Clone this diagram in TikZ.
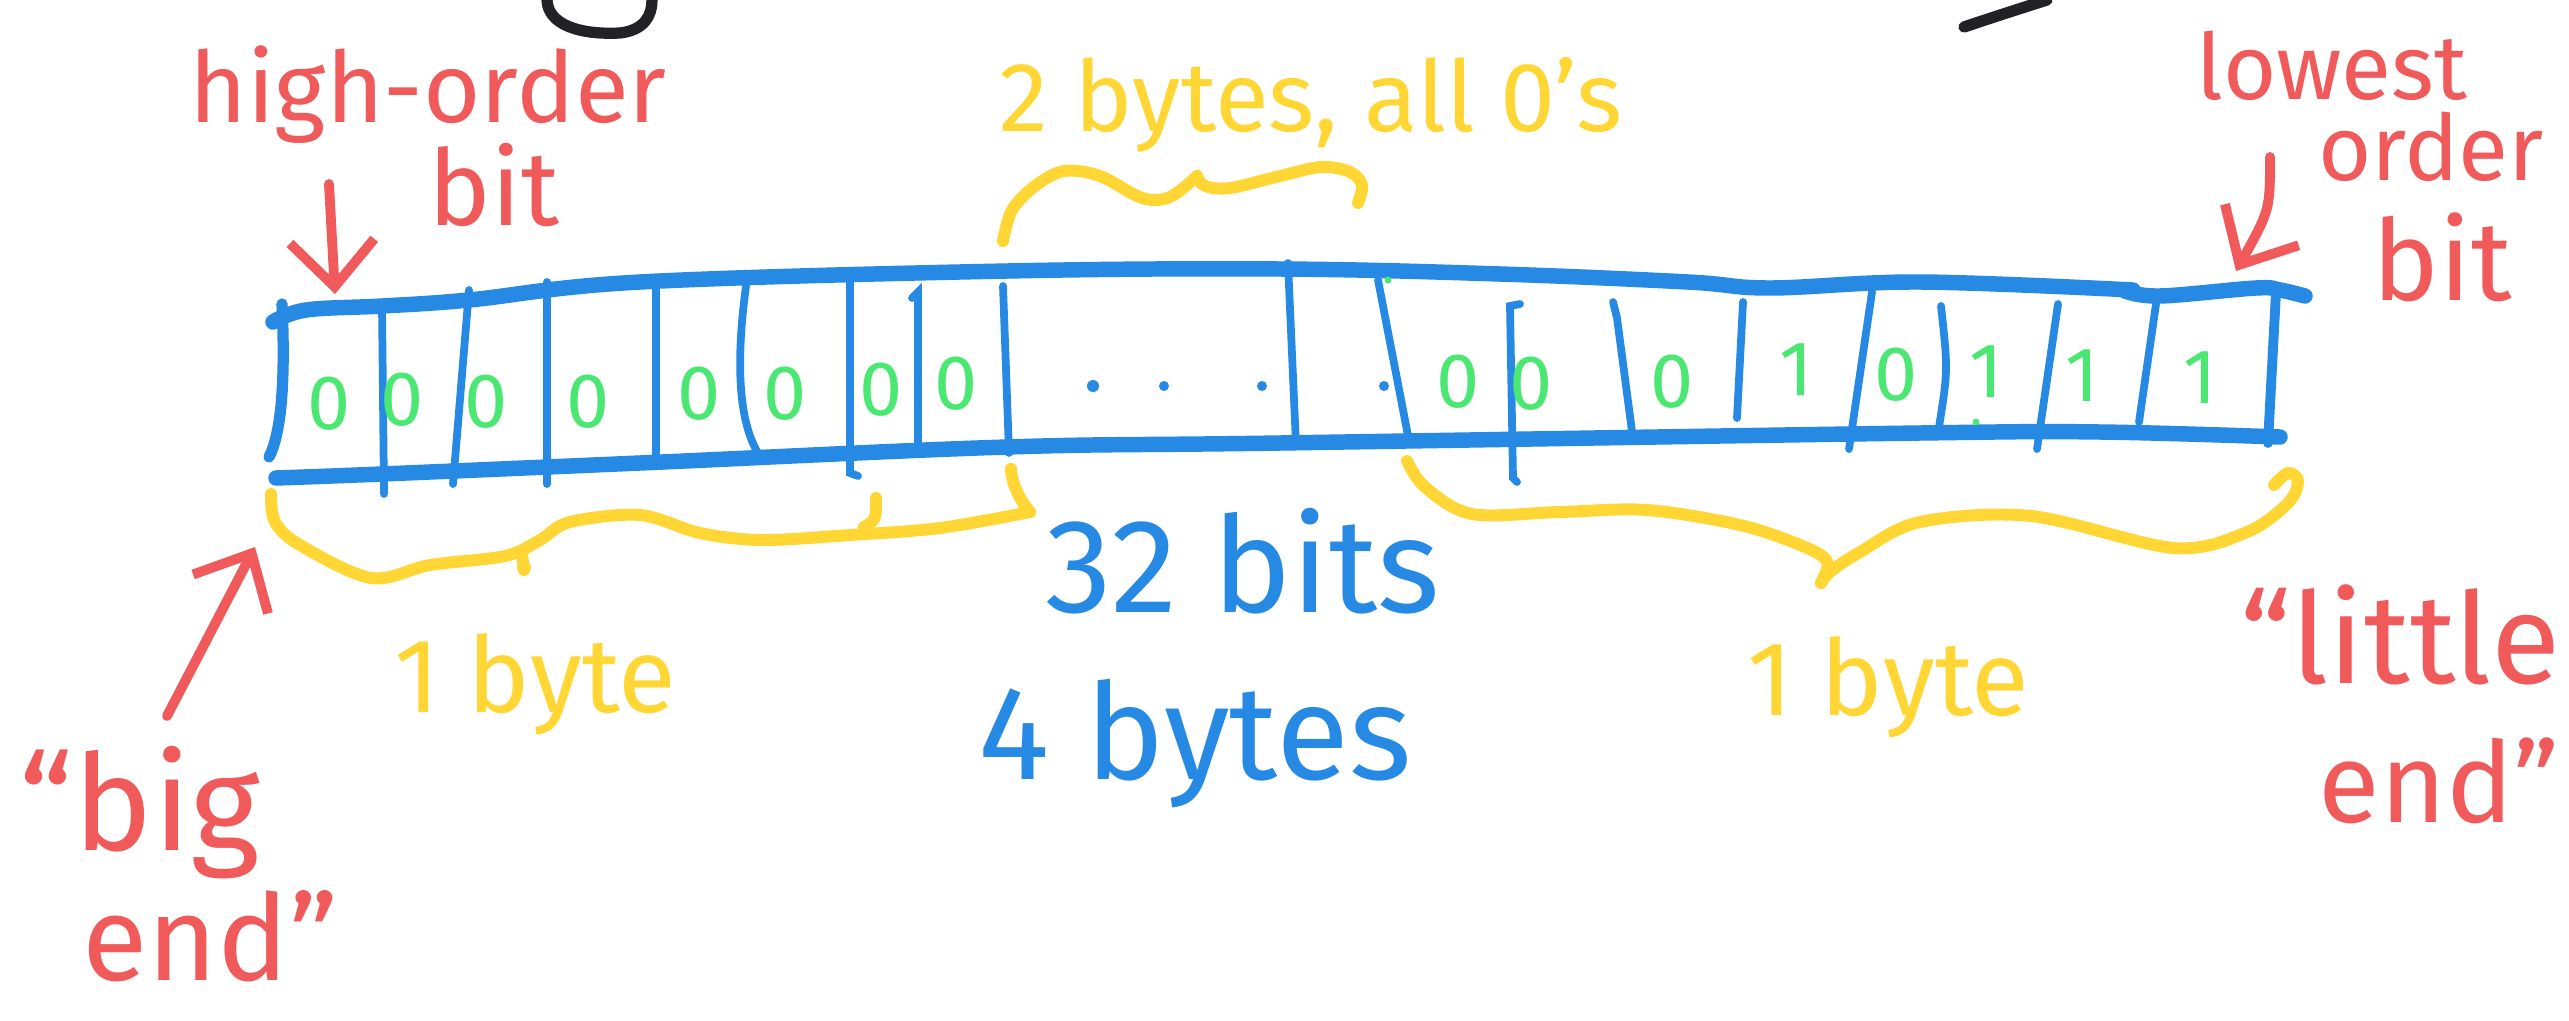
\documentclass[tikz,border=0pt]{standalone}
\usepackage{fontspec}
\setmainfont{Fira Sans}
\usetikzlibrary{arrows.meta}
\definecolor{hblue}{RGB}{38,137,228}
\definecolor{hgreen}{RGB}{74,232,114}
\definecolor{hyellow}{RGB}{255,214,51}
\definecolor{hred}{RGB}{240,90,90}
\definecolor{hblack}{RGB}{34,34,38}
\newcommand{\fsz}[1]{\fontsize{#1}{#1}\selectfont}
\begin{document}
\begin{tikzpicture}[x=0.01cm,y=-0.01cm,
  rail/.style={hblue,line width=4.4pt,line cap=round,line join=round},
  wall/.style={hblue,line width=2.2pt,line cap=round},
  curly/.style={hyellow,line width=3.4pt,line cap=round,line join=round},
  pointer/.style={hred,line width=2.8pt,line cap=round,-{Straight Barb[length=13pt,width=24pt,line width=2.8pt]}},
  bitlbl/.style={text=hgreen,font=\fsz{22},inner sep=0pt},
  redlbl/.style={text=hred,inner sep=0pt,anchor=base},
  yellbl/.style={text=hyellow,inner sep=0pt,anchor=base},
  bluelbl/.style={text=hblue,inner sep=0pt,anchor=base},
  ink/.style={hblack,line width=3.2pt,line cap=round}
]
\useasboundingbox (0,0) rectangle (2569,1021);
\fill[white] (0,0) rectangle (2569,1021);

% black fragments at the top edge
\draw[ink] (547,0) .. controls (548,25) and (580,35) .. (620,33) .. controls (645,30) and (652,15) .. (652,0);
\draw[ink] (1964,27) .. controls (2000,15) .. (2047,0);

% register rails
\draw[rail] plot[smooth,tension=0.6] coordinates {(273,322) (306,310) (382,306) (469,300) (640,282) (1007,271) (1280,269) (1500,274) (1688,282) (1770,288) (1920,282) (2133,290)};
\draw[rail] plot[smooth,tension=0.6] coordinates {(2125,291) (2160,296) (2256,288) (2280,290) (2305,296)};
\draw[rail] plot[smooth,tension=0.6] coordinates {(276,478) (382,474) (640,463) (1007,447) (1280,443) (1920,433) (2100,432) (2280,437)};
\draw[rail,line width=3.2pt] (282,304) .. controls (285,370) and (283,430) .. (269,457);

% dividers
\draw[wall] (382,306) -- (384,494);
\draw[wall] (469,290) -- (453,484);
\draw[wall] (547,282) -- (547,484);
\draw[wall] (656,280) -- (656,457);
\draw[wall] (746,286) .. controls (736,360) and (738,420) .. (758,453);
\draw[wall] (850,282) -- (850,473) -- (858,476);
\draw[wall] (912,298) -- (918,292) -- (918,451);
\draw[wall] (1003,286) -- (1009,453);
\draw[wall] (1288,263) -- (1296,445);
\draw[wall] (1378,280) -- (1409,441);
\draw[wall] (1520,304) -- (1510,306) -- (1513,478) -- (1517,482);
\draw[wall] (1613,302) -- (1617,318) -- (1633,439);
\draw[wall] (1743,302) -- (1737,418);
\draw[wall] (1872,292) -- (1849,449);
\draw[wall] (1941,306) .. controls (1948,370) .. (1939,427);
\draw[wall] (2058,304) -- (2037,449);
\draw[wall] (2156,304) -- (2139,422);
\draw[wall,line width=2.8pt] (2276,292) -- (2268,443);

% dots
\fill[hblue] (1093,386) circle (6);
\fill[hblue] (1164,386) circle (5);
\fill[hblue] (1262,386) circle (5);
\fill[hblue] (1384,386) circle (5);
\fill[hgreen] (1976,422) circle (3.5);
\fill[hgreen] (1388,280) circle (3.5);

% bits
\node[bitlbl] (b1) at (329,404) {0};
\node[bitlbl] (b2) at (402,400) {0};
\node[bitlbl] (b3) at (486,402) {0};
\node[bitlbl] (b4) at (588,402) {0};
\node[bitlbl] (b5) at (699,394) {0};
\node[bitlbl] (b6) at (785,394) {0};
\node[bitlbl] (b7) at (881,390) {0};
\node[bitlbl] (b8) at (956,384) {0};
\node[bitlbl] (b9) at (1458,382) {0};
\node[bitlbl] (b10) at (1531,384) {0};
\node[bitlbl] (b11) at (1672,382) {0};
\node[bitlbl] (b12) at (1796,370) {1};
\node[bitlbl] (b13) at (1896,375) {0};
\node[bitlbl] (b14) at (1986,372) {1};
\node[bitlbl] (b15) at (2082,376) {1};
\node[bitlbl] (b16) at (2200,378) {1};

% braces
\draw[curly] plot[smooth,tension=0.55] coordinates {(1003,241) (1012,210) (1035,186) (1064,171) (1100,176) (1142,198) (1170,197) (1197,176)};
\draw[curly] plot[smooth,tension=0.55] coordinates {(1197,176) (1205,186) (1230,188) (1280,176) (1321,167) (1350,172) (1362,185) (1358,203)};

\draw[curly] plot[smooth,tension=0.55] coordinates {(271,494) (275,522) (300,545) (371,578) (430,565) (505,556) (540,540) (570,522) (640,515) (700,533) (762,540) (850,535) (940,528) (1030,512)};
\draw[curly] (1030,512) .. controls (1020,500) and (1012,485) .. (1011,469);
\draw[curly] (522,554) -- (524,570);
\fill[hyellow] (524,568) circle (7);
\draw[curly] (864,527) .. controls (876,520) .. (876,498);

\draw[curly] plot[smooth,tension=0.55] coordinates {(1407,461) (1425,487) (1472,514) (1560,512) (1647,510) (1740,525) (1800,545) (1827,561) (1821,583)};
\draw[curly] plot[smooth,tension=0.55] coordinates {(1821,583) (1830,572) (1860,552) (1920,522) (2031,516) (2174,548) (2247,532) (2288,503) (2298,481) (2288,473) (2274,485)};

% red arrows
\coordinate (hiTail) at (329,184);
\coordinate (hiTip) at (335,294);
\draw[pointer] (hiTail) -- (hiTip);
\coordinate (loTail) at (2270,157);
\coordinate (loTip) at (2236,271);
\draw[pointer] (loTail) .. controls (2270,210) .. (loTip);
\coordinate (bgTail) at (167,716);
\coordinate (bgTip) at (255,547);
\draw[pointer] (bgTail) -- (bgTip);

% red labels
\node[redlbl,font=\fsz{28}] (hiA) at (428,122) {high-order};
\node[redlbl,font=\fsz{30}] (hiB) at (494,225) {bit};
\node[redlbl,font=\fsz{26}] (loA) at (2332,100) {lowest};
\node[redlbl,font=\fsz{26}] (loB) at (2431,180) {order};
\node[redlbl,font=\fsz{32}] (loC) at (2442,300) {bit};
\node[redlbl,font=\fsz{38}] (bgA) at (140,850) {``big};
\node[redlbl,font=\fsz{34}] (bgB) at (210,980) {end''};
\node[redlbl,font=\fsz{36}] (ltA) at (2400,683) {``little};
\node[redlbl,font=\fsz{32}] (ltB) at (2439,822) {end''};

% yellow labels
\node[yellbl,font=\fsz{28}] (twoB) at (1311,131) {2 bytes, all 0's};
\node[yellbl,font=\fsz{30}] (byL) at (535,712) {1 byte};
\node[yellbl,font=\fsz{30}] (byR) at (1888,715) {1 byte};

% blue labels
\node[bluelbl,font=\fsz{38}] (n32) at (1243,612) {32 bits};
\node[bluelbl,font=\fsz{38}] (n4) at (1195,779) {4 bytes};
\end{tikzpicture}
\end{document}
